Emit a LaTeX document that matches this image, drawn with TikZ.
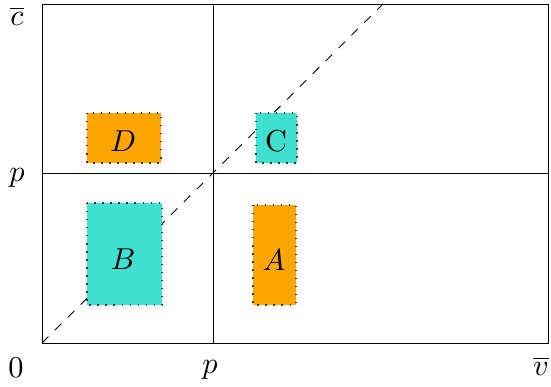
\documentclass[tikz,border=0pt]{standalone}
\begin{document}
\begin{tikzpicture}[x=0.33pt,y=-0.33pt,
  frame/.style={draw=black,line width=0.3pt},
  region/.style={draw=black!80,dash pattern=on 0.45pt off 2.2pt,line width=0.45pt},
  lbl/.style={inner sep=0pt}]
\definecolor{turq}{RGB}{64,224,208}
\definecolor{orng}{RGB}{255,165,0}
\useasboundingbox (0,0) rectangle (551,387);
\coordinate (O) at (42,343);
\coordinate (TR) at (548,4);
\coordinate (D1) at (383,4);
\draw[frame] (O) rectangle (TR);
\draw[frame] (213,4) -- (213,343);
\draw[frame] (42,173) -- (548,173);
\draw[dashed,line width=0.3pt] (O) -- (D1);
\draw[region,fill=orng] (87,113) rectangle (161,163);
\node[lbl] (d) at (123,141) {$D$};
\draw[region,fill=turq] (256,113) rectangle (297,163);
\node[lbl] (c) at (276,141) {C};
\draw[region,fill=turq] (87,203) rectangle (162,305);
\node[lbl] (b) at (123,259) {$B$};
\draw[region,fill=orng] (253,205) rectangle (296,305);
\node[lbl] (a) at (274,260) {$A$};
\node[lbl] (cbar) at (17,16) {$\overline{c}$};
\node[lbl] (p1) at (17,178) {$p$};
\node[lbl] (zero) at (16,368) {$0$};
\node[lbl] (p2) at (210,370) {$p$};
\node[lbl] (vbar) at (541,366) {$\overline{v}$};
\end{tikzpicture}
\end{document}
